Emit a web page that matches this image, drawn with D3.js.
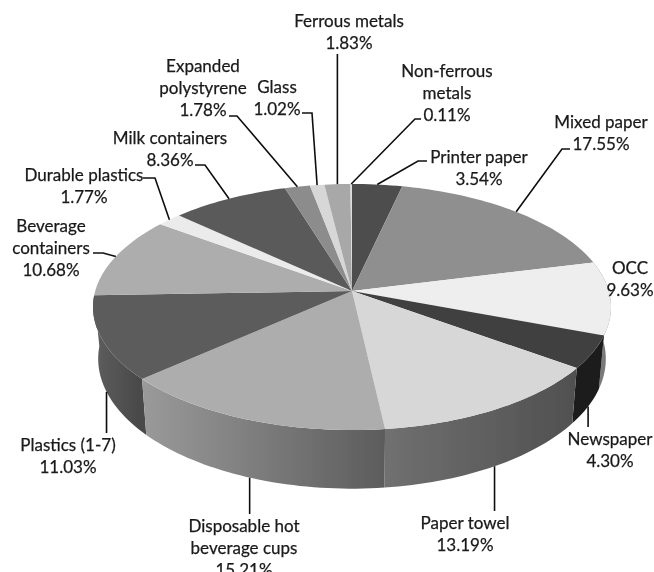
<!DOCTYPE html>
<html>
<head>
<meta charset="utf-8">
<script src="https://cdn.jsdelivr.net/npm/d3@7"></script>
<style>
  html, body { margin: 0; padding: 0; background: #fff; overflow: hidden; }
  svg { display: block; }
  text { font-family: Lato, "Open Sans", sans-serif; font-size: 17px; fill: #1a1a1a; stroke: #1a1a1a; stroke-width: 0.25px; }
</style>
</head>
<body>
<svg id="chart" width="654" height="572"></svg>
<script>
// clockwise from 12 o'clock
const categories = ["Printer paper", "Mixed paper", "OCC", "Newspaper", "Paper towel",
    "Disposable hot beverage cups", "Plastics (1-7)", "Beverage containers", "Durable plastics",
    "Milk containers", "Expanded polystyrene", "Glass", "Ferrous metals", "Non-ferrous metals"];
const shares = [3.54, 17.55, 9.63, 4.30, 13.19, 15.21, 11.03, 10.68, 1.77, 8.36, 1.78, 1.02, 1.83, 0.11];

// grey levels, top face then the two ends of the side wall
const topGreys = ["#4d4d4d", "#8f8f8f", "#eeeeee", "#404040", "#d7d7d7", "#adadad", "#5c5c5c",
    "#adadad", "#ebebeb", "#5a5a5a", "#8c8c8c", "#d7d7d7", "#a8a8a8", "#dddddd"];
const wallFrom = ["#333", "#666", "#7a7a7a", "#1c1c1c", "#707070", "#9a9a9a", "#5e5e5e", "#777", "#999", "#444", "#666", "#999", "#777", "#999"];
const wallTo = ["#333", "#666", "#7a7a7a", "#1c1c1c", "#505050", "#5c5c5c", "#484848", "#777", "#999", "#444", "#666", "#999", "#777", "#999"];

// label lines and layout, same order as categories
const labelLines = [["Printer paper"], ["Mixed paper"], ["OCC"], ["Newspaper"], ["Paper towel"],
    ["Disposable hot", "beverage cups"], ["Plastics (1-7)"], ["Beverage", "containers"], ["Durable plastics"],
    ["Milk containers"], ["Expanded", "polystyrene"], ["Glass"], ["Ferrous metals"], ["Non-ferrous", "metals"]];
const labelX = [479, 601, 630, 610, 465, 244, 68, 51, 84, 170, 203, 277, 349, 447];
const labelY = [163, 128, 274, 445, 529, 532, 451, 232, 181, 144, 72, 93, 27, 77];
// leader elbows, walked from the label towards the pie; null = no leader
const leaders = [
    [[427, 161], [418, 161]], [[570, 149], [562, 149]], null, [[587, 427]], [[494, 511]],
    [[250, 514]], [[107, 433]], [[93, 253], [103, 253]], [[143, 178], [155, 178]],
    [[195, 165], [205, 165]], [[229, 116], [237, 116]], [[302, 113], [312, 113]], [[337, 54]], [[421, 119], [415, 119]]
];
// front slices hang their leader off the lower rim, the others off the top edge
const wallLeader = [false, false, false, true, true, true, true, false, false, false, false, false, false, false];

const cx = 352, cy = 291, radius = 256.8, squash = 0.471, persp = 0.13, depth = 51, rimShrink = 0.98;
const lineGap = 22;

// circle in the pie plane -> screen, with a bit of perspective
function topPoint(a) {
    const u = Math.sin(a), v = -Math.cos(a), s = 1 / (1 - persp * v);
    return [cx + radius * u * s, cy + radius * squash * v * s];
}
function bottomPoint(a) {
    const v = -Math.cos(a), s = 1 / (1 - persp * v), p = topPoint(a);
    return [cx + (p[0] - cx) * rimShrink, p[1] + depth * s];
}

const arcs = d3.pie().sort(null)(shares);
const svg = d3.select("#chart");
const line = d3.line();

function rim(d, fn) {
    const n = Math.max(2, Math.ceil((d.endAngle - d.startAngle) * 40));
    return d3.range(n + 1).map(i => fn(d.startAngle + (d.endAngle - d.startAngle) * i / n));
}

const defs = svg.append("defs");
const soft = defs.append("filter").attr("id", "soft");
soft.append("feGaussianBlur").attr("stdDeviation", 0.45);

const root = svg.append("g").attr("filter", "url(#soft)");

// side walls, each with its own left-right shading
const walls = arcs.map((d, i) => ({ d, i, v: -Math.cos((d.startAngle + d.endAngle) / 2) }))
    .filter(w => w.v > -0.1)
    .sort((a, b) => a.v - b.v);

walls.forEach(w => {
    const pts = rim(w.d, topPoint);
    const xs = d3.extent(pts, p => p[0]);
    const gradId = "wall" + w.i;
    const grad = defs.append("linearGradient").attr("id", gradId)
        .attr("gradientUnits", "userSpaceOnUse")
        .attr("x1", xs[0]).attr("x2", xs[1]).attr("y1", 0).attr("y2", 0);
    grad.append("stop").attr("offset", 0).attr("stop-color", wallFrom[w.i]);
    grad.append("stop").attr("offset", 1).attr("stop-color", wallTo[w.i]);
    root.append("path")
        .attr("d", line(pts.concat(rim(w.d, bottomPoint).reverse())) + "Z")
        .attr("fill", "url(#" + gradId + ")");
});

// top faces
root.selectAll("path.slice")
    .data(arcs)
    .join("path")
    .attr("class", "slice")
    .attr("fill", (d, i) => topGreys[i])
    .attr("d", d => line([[cx, cy]].concat(rim(d, topPoint))) + "Z");

// leaders
arcs.forEach((d, i) => {
    if (!leaders[i]) return;
    const mid = (d.startAngle + d.endAngle) / 2;
    const end = wallLeader[i] ? bottomPoint(mid) : topPoint(mid);
    const pts = leaders[i].concat([end]);
    if (wallLeader[i] || i === 12) pts[0] = [end[0], pts[0][1]];
    root.append("path")
        .attr("d", line(pts))
        .attr("fill", "none")
        .attr("stroke", "#111")
        .attr("stroke-width", 1.6);
});

// labels
arcs.forEach((d, i) => {
    const lines = labelLines[i].concat([shares[i].toFixed(2) + "%"]);
    root.append("text")
        .attr("text-anchor", "middle")
        .selectAll("tspan")
        .data(lines)
        .join("tspan")
        .attr("x", labelX[i])
        .attr("y", (t, j) => labelY[i] + j * lineGap)
        .text(t => t);
});
</script>
</body>
</html>
